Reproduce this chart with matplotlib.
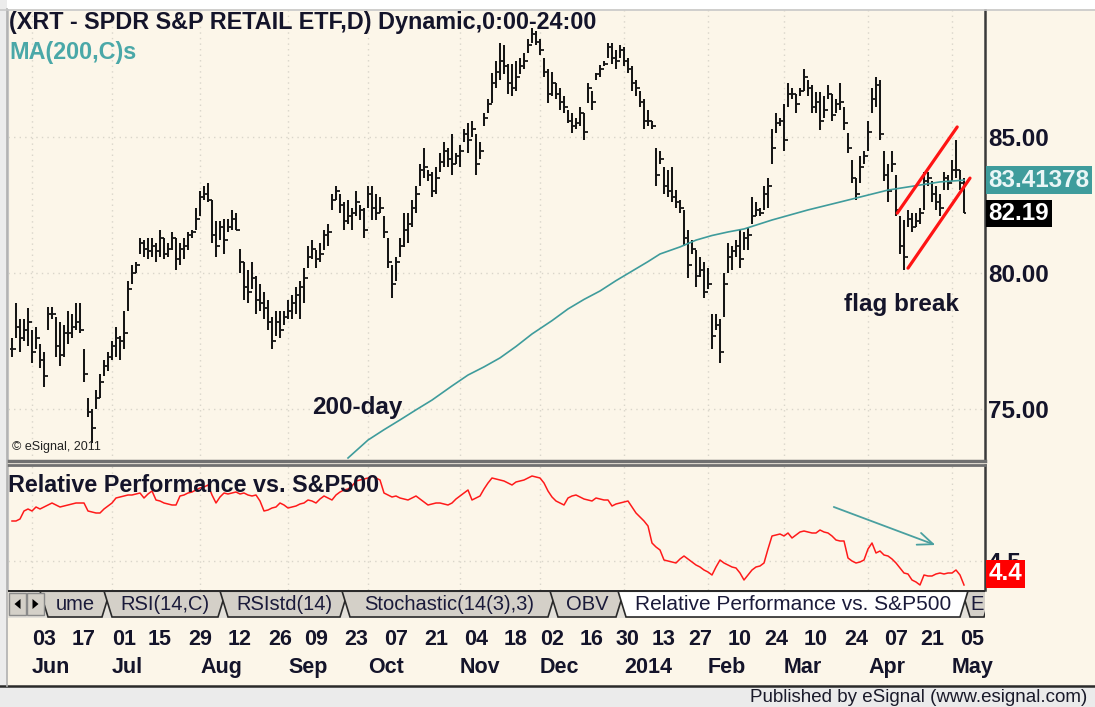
import numpy as np
import pandas as pd
import matplotlib
matplotlib.use("Agg")
import matplotlib.pyplot as plt
from matplotlib.patches import Rectangle, Polygon
from matplotlib.lines import Line2D
from matplotlib.transforms import blended_transform_factory

plt.rcParams['font.family'] = ['Liberation Sans', 'DejaVu Sans']

# ---- data ----
HOLIDAYS = ['2013-05-27', '2013-07-04', '2013-09-02', '2013-11-28', '2013-12-25',
            '2014-01-01', '2014-01-20', '2014-02-17', '2014-04-18']

HIGH = [77.6, 78.9, 78.3, 78.3, 78.7, 77.9, 78.0, 77.4, 77.1, 78.75,
        78.75, 78.4, 78.2, 78.1, 78.6, 78.5, 78.9, 78.9, 77.2, 75.4,
        75.0, 75.7, 76.3, 76.8, 77.1, 77.5, 78.0, 77.7, 78.6, 79.7,
        80.3, 80.4, 81.3, 81.2, 81.3, 81.3, 81.1, 81.6, 81.3, 81.1,
        81.5, 81.3, 81.1, 81.3, 81.5, 81.6, 82.4, 83.0, 83.2, 83.3,
        82.7, 81.9, 81.9, 82.0, 82.0, 82.3, 82.2, 80.9, 80.4, 80.1,
        80.4, 79.9, 79.6, 79.3, 79.0, 78.4, 78.6, 78.6, 78.6, 79.0,
        79.2, 79.5, 79.7, 80.2, 81.0, 81.2, 80.85, 81.1, 81.6, 81.8,
        82.9, 83.2, 82.9, 82.6, 82.7, 82.4, 83.0, 82.5, 82.4, 83.2,
        83.2, 82.9, 82.8, 82.1, 81.3, 80.3, 80.6, 81.3, 82.2, 82.2,
        82.7, 83.2, 84.0, 84.6, 83.8, 83.7, 83.9, 84.4, 84.8, 84.6,
        85.1, 84.4, 84.7, 85.3, 85.5, 85.6, 85.1, 84.8, 85.9, 86.4,
        87.35, 87.8, 88.45, 88.4, 87.7, 87.7, 87.8, 87.9, 88.1, 88.6,
        89.0, 88.9, 88.6, 87.9, 87.5, 87.4, 87.0, 86.8, 86.5, 86.0,
        85.9, 85.7, 86.1, 85.9, 87.0, 86.7, 87.35, 87.65, 87.8, 88.45,
        88.45, 88.2, 88.4, 88.3, 87.9, 87.6, 87.1, 86.7, 86.4, 86.0,
        85.6, 84.6, 84.5, 83.9, 83.8, 83.9, 83.05, 82.7, 82.3, 81.6,
        81.2, 80.85, 80.6, 80.4, 80.2, 78.5, 78.5, 78.3, 80.0, 81.1,
        81.0, 81.2, 81.6, 81.5, 81.7, 82.8, 82.6, 82.4, 83.2, 83.5,
        85.3, 85.9, 85.7, 86.2, 87.0, 86.8, 86.6, 86.8, 87.5, 87.1,
        86.9, 86.65, 86.65, 86.5, 86.9, 86.6, 86.4, 87.0, 86.1, 85.15,
        84.15, 83.5, 84.3, 84.5, 85.6, 86.8, 87.2, 87.1, 84.5, 84.0,
        84.5, 83.6, 82.1, 81.95, 82.3, 82.2, 82.2, 82.4, 83.7, 83.7,
        83.4, 83.2, 82.9, 83.7, 83.6, 84.15, 84.9, 83.8, 83.5]

LOW = [76.9, 77.6, 77.1, 77.5, 77.3, 76.7, 77.2, 76.5, 75.8, 77.9,
       78.3, 76.9, 76.6, 76.9, 77.4, 77.6, 77.9, 77.8, 76.0, 74.7,
       73.75, 75.0, 75.4, 76.2, 76.4, 76.8, 76.9, 76.8, 77.2, 78.6,
       79.6, 80.0, 80.7, 80.6, 80.5, 80.6, 80.4, 80.6, 80.5, 80.6,
       80.85, 80.1, 80.3, 80.5, 80.85, 81.3, 81.6, 82.1, 82.7, 82.6,
       81.1, 80.6, 81.2, 80.7, 81.5, 81.6, 81.6, 80.0, 79.0, 78.9,
       79.4, 78.5, 78.6, 78.3, 77.9, 77.2, 77.7, 77.6, 78.1, 78.3,
       78.3, 78.5, 78.3, 78.9, 80.2, 80.5, 80.2, 80.4, 80.85, 81.0,
       82.3, 82.7, 82.2, 81.6, 81.8, 81.6, 82.1, 81.95, 81.3, 82.4,
       81.95, 81.95, 82.2, 81.3, 80.2, 79.1, 79.7, 80.6, 80.95, 81.1,
       81.7, 82.2, 83.2, 83.5, 83.4, 82.8, 82.9, 83.7, 83.9, 83.9,
       83.6, 84.0, 83.9, 84.8, 84.4, 85.0, 83.6, 84.2, 85.4, 85.9,
       86.25, 86.8, 87.1, 87.3, 86.6, 86.5, 86.7, 87.3, 87.5, 88.1,
       88.45, 88.4, 88.0, 87.2, 86.25, 86.5, 86.4, 86.0, 85.9, 85.5,
       85.15, 85.3, 85.4, 84.9, 86.25, 86.0, 87.1, 87.2, 87.6, 87.9,
       87.7, 87.5, 87.9, 87.6, 87.35, 86.7, 86.5, 86.1, 85.3, 85.4,
       85.3, 83.2, 84.0, 82.9, 82.8, 82.6, 82.4, 82.2, 81.0, 79.8,
       80.7, 79.5, 79.85, 79.1, 79.4, 77.2, 77.9, 76.7, 78.4, 80.0,
       80.1, 80.6, 80.2, 80.85, 80.85, 81.8, 82.1, 82.1, 82.3, 82.4,
       84.0, 85.15, 85.4, 84.5, 86.1, 86.4, 85.9, 86.5, 86.7, 86.5,
       85.9, 85.9, 85.25, 85.7, 86.4, 85.6, 85.9, 86.0, 85.25, 84.4,
       83.3, 82.7, 83.3, 84.0, 84.5, 85.9, 86.1, 84.9, 83.4, 82.6,
       83.7, 82.1, 80.7, 80.1, 81.7, 81.5, 81.7, 81.8, 82.3, 83.2,
       82.6, 82.3, 82.1, 83.05, 83.05, 83.4, 83.5, 83.05, 82.19]

CLOSE = [77.2, 78.0, 77.6, 77.9, 78.2, 77.1, 77.6, 76.8, 76.2, 78.5,
         78.5, 77.3, 77.0, 77.8, 77.8, 78.0, 78.2, 77.9, 76.3, 74.9,
         74.3, 75.4, 76.0, 76.6, 76.9, 77.3, 77.6, 77.5, 77.8, 79.4,
         80.0, 80.3, 81.1, 80.9, 80.8, 81.0, 80.8, 81.3, 80.7, 80.9,
         81.3, 80.5, 80.9, 81.0, 81.4, 81.5, 82.0, 82.8, 82.9, 82.7,
         81.4, 81.0, 81.7, 81.2, 81.7, 82.0, 81.6, 80.4, 79.5, 79.3,
         79.8, 79.0, 78.9, 78.7, 78.2, 77.5, 78.2, 77.9, 78.4, 78.6,
         78.9, 79.2, 79.5, 79.8, 80.6, 80.9, 80.5, 80.7, 81.4, 81.5,
         82.7, 83.0, 82.5, 81.9, 82.1, 82.2, 82.6, 82.3, 81.6, 82.9,
         82.4, 82.2, 82.4, 81.5, 80.4, 79.6, 80.4, 81.0, 81.6, 81.8,
         82.4, 82.9, 83.8, 83.9, 83.6, 83.0, 83.5, 84.1, 84.5, 84.2,
         84.0, 84.3, 84.5, 85.1, 84.9, 85.3, 84.0, 84.5, 85.7, 86.2,
         87.0, 87.4, 87.8, 87.6, 87.0, 86.8, 87.2, 87.6, 87.8, 88.4,
         88.8, 88.5, 88.2, 87.4, 86.6, 87.0, 86.6, 86.3, 86.1, 85.6,
         85.4, 85.5, 85.9, 85.2, 86.8, 86.3, 87.3, 87.5, 87.7, 88.3,
         87.9, 87.8, 88.2, 87.8, 87.5, 87.0, 86.8, 86.3, 85.6, 85.6,
         85.4, 83.6, 84.2, 83.2, 83.0, 82.8, 82.6, 82.4, 81.3, 80.3,
         80.9, 79.9, 80.1, 79.3, 79.6, 77.7, 78.1, 77.1, 79.6, 80.6,
         80.8, 81.0, 80.5, 81.3, 81.4, 82.1, 82.3, 82.2, 82.9, 83.2,
         84.6, 85.5, 85.6, 84.9, 86.6, 86.6, 86.2, 86.7, 87.2, 86.8,
         86.1, 86.3, 85.6, 86.0, 86.6, 85.8, 86.2, 86.3, 85.5, 84.6,
         83.5, 82.9, 83.9, 84.3, 85.2, 86.4, 86.9, 85.1, 83.6, 83.0,
         84.0, 82.3, 81.0, 80.6, 82.0, 81.7, 81.9, 82.2, 83.4, 83.5,
         82.9, 82.6, 82.4, 83.5, 83.3, 83.8, 83.8, 83.3, 82.19]

# 200-day moving average, sampled at these bar numbers
MA_IDX = [84, 89, 93, 97, 101, 105, 110, 114, 118, 122, 126, 130, 135, 139,
          143, 147, 151, 155, 159, 162, 167, 171, 175, 179, 183, 190, 199,
          207, 219, 232, 238]
MA_VAL = [73.2, 73.86, 74.24, 74.6, 74.97, 75.33, 75.85, 76.25, 76.55, 76.88,
          77.3, 77.76, 78.25, 78.68, 79.03, 79.34, 79.72, 80.07, 80.42, 80.70,
          80.96, 81.21, 81.38, 81.51, 81.62, 81.95, 82.32, 82.61, 83.05,
          83.35, 83.41378]

# relative performance vs S&P500
RP = [4.70, 4.70, 4.71, 4.75, 4.76, 4.75, 4.77, 4.76, 4.77, 4.78,
      4.79, 4.78, 4.77, 4.775, 4.78, 4.785, 4.79, 4.79, 4.79, 4.75,
      4.745, 4.74, 4.74, 4.76, 4.775, 4.79, 4.815, 4.82, 4.825, 4.83,
      4.83, 4.835, 4.84, 4.815, 4.835, 4.85, 4.805, 4.80, 4.79, 4.785,
      4.78, 4.78, 4.825, 4.83, 4.84, 4.845, 4.855, 4.865, 4.87, 4.88,
      4.83, 4.79, 4.82, 4.84, 4.835, 4.84, 4.845, 4.835, 4.84, 4.83,
      4.825, 4.83, 4.80, 4.75, 4.755, 4.765, 4.77, 4.79, 4.78, 4.765,
      4.77, 4.775, 4.785, 4.79, 4.805, 4.80, 4.79, 4.81, 4.825, 4.815,
      4.805, 4.83, 4.845, 4.855, 4.86, 4.875, 4.90, 4.905, 4.91, 4.915,
      4.925, 4.915, 4.905, 4.84, 4.83, 4.82, 4.825, 4.815, 4.81, 4.805,
      4.815, 4.825, 4.81, 4.795, 4.78, 4.785, 4.79, 4.79, 4.785, 4.78,
      4.79, 4.81, 4.825, 4.84, 4.855, 4.805, 4.815, 4.825, 4.86, 4.89,
      4.915, 4.91, 4.905, 4.90, 4.89, 4.88, 4.895, 4.90, 4.905, 4.915,
      4.925, 4.92, 4.915, 4.89, 4.85, 4.82, 4.80, 4.79, 4.78, 4.815,
      4.825, 4.83, 4.82, 4.81, 4.805, 4.80, 4.815, 4.81, 4.805, 4.805,
      4.775, 4.785, 4.79, 4.795, 4.80, 4.77, 4.74, 4.72, 4.70, 4.675,
      4.59, 4.57, 4.555, 4.505, 4.50, 4.495, 4.49, 4.51, 4.525, 4.51,
      4.495, 4.48, 4.47, 4.455, 4.445, 4.43, 4.47, 4.505, 4.49, 4.48,
      4.47, 4.465, 4.44, 4.405, 4.43, 4.455, 4.47, 4.475, 4.49, 4.56,
      4.625, 4.63, 4.635, 4.625, 4.64, 4.615, 4.63, 4.645, 4.65, 4.645,
      4.64, 4.64, 4.655, 4.645, 4.64, 4.625, 4.605, 4.60, 4.60, 4.515,
      4.50, 4.49, 4.495, 4.505, 4.56, 4.59, 4.54, 4.55, 4.53, 4.525,
      4.51, 4.49, 4.465, 4.44, 4.435, 4.405, 4.395, 4.38, 4.43, 4.425,
      4.425, 4.435, 4.44, 4.435, 4.44, 4.44, 4.455, 4.43, 4.38]

# hand-drawn flag channel (bar number, price)
FLAG_UP_X, FLAG_UP_Y = [221.3, 236.3], [82.2, 85.37]
FLAG_LO_X, FLAG_LO_Y = [224.0, 239.5], [80.18, 83.49]
# teal arrow on the relative performance pane (bar number, value)
ARROW_X, ARROW_Y = [204.8, 231.5], [4.775, 4.575]

TABS = ['ume', 'RSI(14,C)', 'RSIstd(14)', 'Stochastic(14(3),3)', 'OBV',
        'Relative Performance vs. S&P500', 'E']

# ---- dates ----
n = len(CLOSE)
days = pd.bdate_range('2013-05-24', '2014-05-16')
days = days[~days.isin(pd.to_datetime(HOLIDAYS))]
idx = np.arange(n)
opens = [CLOSE[0]] + CLOSE[:-1]

label_dates = pd.date_range('2013-06-03', '2014-05-05', freq='14D')
label_pos = [days.get_loc(d) for d in label_dates]
month_first = pd.Series(days).groupby([days.year, days.month]).first()
month_first = month_first[month_first >= pd.Timestamp('2013-06-01')]
month_pos = [days.get_loc(d) for d in month_first]
month_txt = [d.strftime('%Y') if d.month == 1 else d.strftime('%b') for d in month_first]

# ---- figure ----
W, H = 1095, 707
BG = '#fcf6e9'
INK = '#14142a'
TEAL = '#3f9c9c'
fig = plt.figure(figsize=(W / 100, H / 100), dpi=100, facecolor=BG)


def box(x0, y0, x1, y1):
    return [x0 / W, 1 - y1 / H, (x1 - x0) / W, (y1 - y0) / H]


def fxy(x, y):
    return x / W, 1 - y / H


# frame strips
fig.patches.append(Rectangle((0, 1 - 9 / H), 1, 9 / H, transform=fig.transFigure, fc='#ffffff', ec='none'))
fig.patches.append(Rectangle((0, 0), 7 / W, 1, transform=fig.transFigure, fc='#ececec', ec='none'))
fig.patches.append(Rectangle((0, 0), 1, 21 / H, transform=fig.transFigure, fc='#ebebeb', ec='none'))

xlim = (-1, 243.25)
grid_kw = dict(color='#d9d5ca', linestyle=(0, (1, 3)), linewidth=1.0)

# price pane
ax = fig.add_axes(box(8, 10, 985, 461))
ax.set_facecolor(BG)
ax.set_xlim(*xlim)
ax.set_ylim(73.09, 89.67)
ax.set_xticks(month_pos)
ax.set_yticks([75, 80, 85])
ax.set_yticklabels([f'{v:.2f}' for v in [75, 80, 85]])
ax.yaxis.tick_right()
ax.tick_params(axis='x', length=0, labelbottom=False)
ax.tick_params(axis='y', length=0, pad=2, labelsize=17.5, labelcolor=INK)
for t in ax.get_yticklabels():
    t.set_fontweight('bold')
ax.grid(True, **grid_kw)
ax.set_axisbelow(True)
ax.spines['top'].set_visible(False)
ax.spines['left'].set_color('#c4c4c4')
ax.spines['left'].set_linewidth(1.5)
ax.spines['right'].set_color('#3a3a3a')
ax.spines['right'].set_linewidth(1.8)
ax.spines['bottom'].set_color('#707070')
ax.spines['bottom'].set_linewidth(2.5)

bar_c = '#161616'
ax.vlines(idx, LOW, HIGH, color=bar_c, lw=1.45)
ax.hlines(opens, idx - 0.6, idx, color=bar_c, lw=1.3)
ax.hlines(CLOSE, idx, idx + 0.6, color=bar_c, lw=1.3)
ax.plot(MA_IDX, MA_VAL, color=TEAL, lw=1.2)
ax.plot(FLAG_UP_X, FLAG_UP_Y, color='#ff1414', lw=2.3, solid_capstyle='round')
ax.plot(FLAG_LO_X, FLAG_LO_Y, color='#ff1414', lw=2.3, solid_capstyle='round')

ax.text(222.5, 78.86, 'flag break', ha='center', va='center', fontsize=17.5,
        fontweight='bold', color=INK)
ax.text(86.3, 75.07, '200-day', ha='center', va='center', fontsize=17.5,
        fontweight='bold', color=INK)
ax.text(0.004, 0.03, '\u00a9 eSignal, 2011', transform=ax.transAxes, fontsize=9,
        color='#222222', va='center')

tr = blended_transform_factory(ax.transAxes, ax.transData)
ax.annotate(f'{MA_VAL[-1]:.5f}', xy=(1, MA_VAL[-1]), xycoords=tr, xytext=(2.5, 0),
            textcoords='offset points', ha='left', va='center', fontsize=17.5,
            fontweight='bold', color='#eaf6f6', annotation_clip=False,
            bbox=dict(boxstyle='square,pad=0.1', fc=TEAL, ec='none'))
ax.annotate(f'{CLOSE[-1]:.2f}', xy=(1, CLOSE[-1]), xycoords=tr, xytext=(2.5, 0),
            textcoords='offset points', ha='left', va='center', fontsize=17.5,
            fontweight='bold', color='#ffffff', annotation_clip=False,
            bbox=dict(boxstyle='square,pad=0.1', fc='#000000', ec='none'))

fig.text(*fxy(9, 22), '(XRT - SPDR S&P RETAIL ETF,D) Dynamic,0:00-24:00',
         fontsize=16.8, fontweight='bold', color=INK, va='center')
fig.text(*fxy(9, 53), 'MA(200,C)s', fontsize=16.8, fontweight='bold',
         color='#4aa8a8', va='center')

# relative performance pane
ax2 = fig.add_axes(box(8, 465, 985, 590))
ax2.set_facecolor(BG)
ax2.set_xlim(*xlim)
ax2.set_ylim(4.355, 4.98)
ax2.set_xticks(month_pos)
ax2.set_yticks([4.5])
ax2.set_yticklabels(['4.5'])
ax2.yaxis.tick_right()
ax2.tick_params(axis='x', length=0, labelbottom=False)
ax2.tick_params(axis='y', length=0, pad=2, labelsize=17.5, labelcolor=INK)
for t in ax2.get_yticklabels():
    t.set_fontweight('bold')
ax2.grid(True, **grid_kw)
ax2.set_axisbelow(True)
ax2.spines['bottom'].set_visible(False)
ax2.spines['left'].set_color('#c4c4c4')
ax2.spines['left'].set_linewidth(1.5)
ax2.spines['right'].set_color('#3a3a3a')
ax2.spines['right'].set_linewidth(1.8)
ax2.spines['top'].set_color('#707070')
ax2.spines['top'].set_linewidth(2.0)
ax2.plot(idx, RP, color='#ff1a1a', lw=1.1)
ax2.annotate('', xy=(ARROW_X[1], ARROW_Y[1]), xytext=(ARROW_X[0], ARROW_Y[0]),
             arrowprops=dict(arrowstyle='->,head_length=1.1,head_width=0.45',
                             color='#4aa0a0', lw=1.3))
tr2 = blended_transform_factory(ax2.transAxes, ax2.transData)
ax2.annotate(f'{RP[-1]:.1f}', xy=(1, RP[-1]), xycoords=tr2, xytext=(2.5, 8),
             textcoords='offset points', ha='left', va='center', fontsize=17.5,
             fontweight='bold', color='#ffffff', annotation_clip=False,
             bbox=dict(boxstyle='square,pad=0.1', fc='#ff0000', ec='none'))
fig.text(*fxy(8, 485), 'Relative Performance vs. S&P500', fontsize=16.8,
         fontweight='bold', color=INK, va='center')

# tab strip
axt = fig.add_axes(box(8, 590, 985, 618))
axt.set_xlim(8, 985)
axt.set_ylim(618, 590)
axt.axis('off')
axt.add_patch(Rectangle((8, 590), 977, 28, fc='#e4e1da', ec='none'))
tab_x = [(40, 110), (104, 226), (220, 348), (342, 556), (550, 624), (618, 968), (962, 992)]
for (x0, x1), lab in zip(tab_x, TABS):
    if lab.startswith('Relative'):
        continue
    axt.add_patch(Polygon([(x0, 591), (x0 + 8, 617), (x1 - 8, 617), (x1, 591)],
                          closed=True, fc='#d4d0c8', ec='#2a2a2a', lw=1.2))
    axt.text(x0 + (x1 - x0) / 2, 604, lab, ha='center', va='center',
             fontsize=14.5, color='#1a1a3a')
(x0, x1) = tab_x[5]
axt.add_patch(Polygon([(x0, 591), (x0 + 8, 617), (x1 - 8, 617), (x1, 591)],
                      closed=True, fc='#ffffff', ec='#2a2a2a', lw=1.2))
axt.text(x0 + (x1 - x0) / 2, 604, TABS[5], ha='center', va='center',
         fontsize=15, color='#1a1a3a')
axt.plot([8, 985], [591, 591], color='#2a2a2a', lw=1.5)
for bx0, tri in [(9, 'l'), (27, 'r')]:
    axt.add_patch(Rectangle((bx0, 593), 17, 22, fc='#d4d0c8', ec='#8a8a8a', lw=1))
    cx = bx0 + 8.5
    if tri == 'l':
        pts = [(cx + 3, 599), (cx + 3, 609), (cx - 3, 604)]
    else:
        pts = [(cx - 3, 599), (cx - 3, 609), (cx + 3, 604)]
    axt.add_patch(Polygon(pts, closed=True, fc='#000000', ec='none'))

# date axis
axd = fig.add_axes(box(8, 618, 985, 685))
axd.set_xlim(*xlim)
axd.set_ylim(685, 618)
axd.axis('off')
for p, d in zip(label_pos, label_dates):
    axd.text(p, 645, d.strftime('%d'), ha='left', va='baseline', fontsize=15.5,
             fontweight='bold', color=INK)
for p, m in zip(month_pos, month_txt):
    axd.text(p, 673, m, ha='left', va='baseline', fontsize=15.5,
             fontweight='bold', color=INK)

fig.add_artist(Line2D([0, 1], [1 - 685.5 / H] * 2, transform=fig.transFigure,
                      color='#2a2a2a', lw=1.8))
fig.add_artist(Line2D([7 / W, 7 / W], [21 / H, 1 - 9 / H], transform=fig.transFigure,
                      color='#b0b0b0', lw=1.2))
fig.add_artist(Line2D([0, 1], [1 - 9.5 / H] * 2, transform=fig.transFigure,
                      color='#c8c8c8', lw=1.2))
fig.text(*fxy(1087, 697), 'Published by eSignal (www.esignal.com)', fontsize=13.5,
         color='#1a1a2a', ha='right', va='center')

fig.savefig('out.png', dpi=100, facecolor=BG)
